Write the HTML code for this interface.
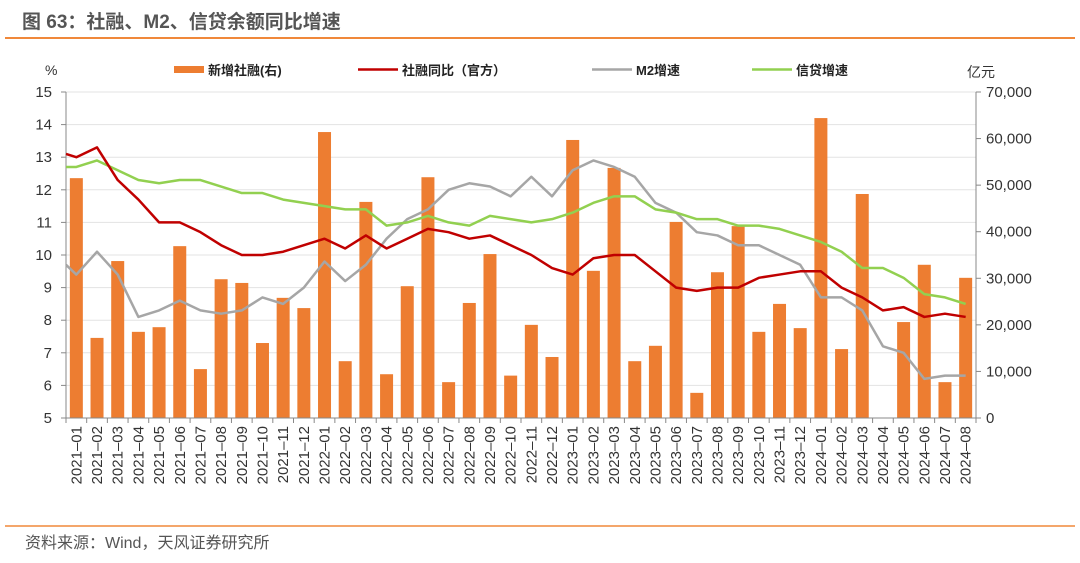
<!DOCTYPE html>
<html><head><meta charset="utf-8"><style>
body{margin:0;background:#fff;width:1080px;height:558px;overflow:hidden;font-family:"Liberation Sans","Noto Sans CJK SC",sans-serif}
</style></head><body>
<svg id="c" width="1080" height="558" xmlns="http://www.w3.org/2000/svg" font-family="Liberation Sans, Noto Sans CJK SC, sans-serif">
<text x="22" y="28" font-size="19" font-weight="bold" fill="#555">图 63：社融、M2、信贷余额同比增速</text>
<line x1="5" y1="38" x2="1075" y2="38" stroke="#f0883a" stroke-width="2"/>
<line x1="5" y1="526" x2="1075" y2="526" stroke="#f0883a" stroke-width="1.5"/>
<text x="25" y="548" font-size="16" fill="#555">资料来源：Wind，天风证券研究所</text>
<text x="45" y="75" font-size="14" fill="#333">%</text>
<text x="967" y="77" font-size="14" fill="#333">亿元</text>
<g font-size="13" fill="#222" font-weight="bold">
<rect x="174" y="66" width="30" height="7" fill="#ed7d31"/>
<text x="208" y="75">新增社融(右)</text>
<line x1="358" y1="69.5" x2="398" y2="69.5" stroke="#c00000" stroke-width="2.5"/>
<text x="402" y="75">社融同比（官方）</text>
<line x1="592" y1="69.5" x2="632" y2="69.5" stroke="#a6a6a6" stroke-width="2.5"/>
<text x="636" y="75">M2增速</text>
<line x1="752" y1="69.5" x2="792" y2="69.5" stroke="#92d050" stroke-width="2.5"/>
<text x="796" y="75">信贷增速</text>
</g>
<g id="plot"></g>
</svg>
<script>
const categories=[];
for(const y of [2021,2022,2023,2024]){for(let m=1;m<=12;m++){if(y===2024&&m>8)break;categories.push(y+'-'+String(m).padStart(2,'0'));}}
const newFinancing=[51500,17200,33700,18500,19500,36900,10500,29800,29000,16100,25800,23600,
61400,12200,46400,9400,28300,51700,7700,24700,35200,9100,20000,13100,
59700,31600,53700,12200,15500,42100,5400,31300,41200,18500,24500,19300,
64400,14800,48100,0,20600,32900,7700,30100];
const tsfGrowth=[13.0,13.3,12.3,11.7,11.0,11.0,10.7,10.3,10.0,10.0,10.1,10.3,
10.5,10.2,10.6,10.2,10.5,10.8,10.7,10.5,10.6,10.3,10.0,9.6,
9.4,9.9,10.0,10.0,9.5,9.0,8.9,9.0,9.0,9.3,9.4,9.5,
9.5,9.0,8.7,8.3,8.4,8.1,8.2,8.1];
const m2Growth=[9.4,10.1,9.4,8.1,8.3,8.6,8.3,8.2,8.3,8.7,8.5,9.0,
9.8,9.2,9.7,10.5,11.1,11.4,12.0,12.2,12.1,11.8,12.4,11.8,
12.6,12.9,12.7,12.4,11.6,11.3,10.7,10.6,10.3,10.3,10.0,9.7,
8.7,8.7,8.3,7.2,7.0,6.2,6.3,6.3];
const loanGrowth=[12.7,12.9,12.6,12.3,12.2,12.3,12.3,12.1,11.9,11.9,11.7,11.6,
11.5,11.4,11.4,10.9,11.0,11.2,11.0,10.9,11.2,11.1,11.0,11.1,
11.3,11.6,11.8,11.8,11.4,11.3,11.1,11.1,10.9,10.9,10.8,10.6,
10.4,10.1,9.6,9.6,9.3,8.8,8.7,8.5];
// values at the left axis edge (prior period), drawn at x = axis start
const leadValues=[13.1,9.7,12.7]; // tsf, m2, loan
const leftTicks=[5,6,7,8,9,10,11,12,13,14,15];
const rightTicks=[0,10000,20000,30000,40000,50000,60000,70000];

const X0=66,X1=976,YT=92,YB=418;
const NS='http://www.w3.org/2000/svg';
const g=document.getElementById('plot');
const n=categories.length, step=(X1-X0)/n;
const xc=i=>X0+step*(i+0.5);
const yL=v=>YB-(v-5)/10*(YB-YT);
const yR=v=>YB-v/70000*(YB-YT);
function mk(t,a){const e=document.createElementNS(NS,t);for(const k in a)e.setAttribute(k,a[k]);g.appendChild(e);return e;}
leftTicks.forEach(v=>{const l=mk('line',{x1:X0,y1:yL(v),x2:X1,y2:yL(v),stroke:'#e3e3e3'});
 
 });
newFinancing.forEach((v,i)=>{const h=yR(0)-yR(v);
 const r=mk('rect',{x:xc(i)-6.5,y:yR(v),width:13,height:Math.max(0,h),fill:'#ed7d31'});
 
 });
let e=mk('line',{x1:X0,y1:YT,x2:X0,y2:YB,stroke:'#888'});


e=mk('line',{x1:X1,y1:YT,x2:X1,y2:YB,stroke:'#888'});


e=mk('line',{x1:X0,y1:YB,x2:X1,y2:YB,stroke:'#888'});


leftTicks.forEach(v=>{mk('line',{x1:X0-5,y1:yL(v),x2:X0,y2:yL(v),stroke:'#888'});
 const t=mk('text',{x:X0-14,y:yL(v)+5,'font-size':15,'text-anchor':'end',fill:'#333'});t.textContent=v;
 
 });
rightTicks.forEach(v=>{mk('line',{x1:X1,y1:yR(v),x2:X1+5,y2:yR(v),stroke:'#888'});
 const t=mk('text',{x:X1+10,y:yR(v)+5,'font-size':15,fill:'#333'});t.textContent=v.toLocaleString('en-US');
 
 });
for(let i=0;i<=n;i++)mk('line',{x1:X0+step*i,y1:YB,x2:X0+step*i,y2:YB+5,stroke:'#888'});
categories.forEach((c,i)=>{const t=mk('text',{x:0,y:0,'font-size':15,'text-anchor':'end',fill:'#333',transform:`translate(${xc(i)+5},${YB+8}) rotate(-90)`});
 t.textContent=c.replace('-','\u2013');
 
 });
function line(d,lead,col,name){const pts=[X0+','+yL(lead)].concat(d.map((v,i)=>xc(i)+','+yL(v)));
 const p=mk('polyline',{points:pts.join(' '),fill:'none',stroke:col,'stroke-width':2.5,'stroke-linejoin':'round'});
 
 }
line(m2Growth,leadValues[1],'#a6a6a6','m2-line');
line(loanGrowth,leadValues[2],'#92d050','loan-line');
line(tsfGrowth,leadValues[0],'#c00000','tsf-line');
</script>
</body></html>
